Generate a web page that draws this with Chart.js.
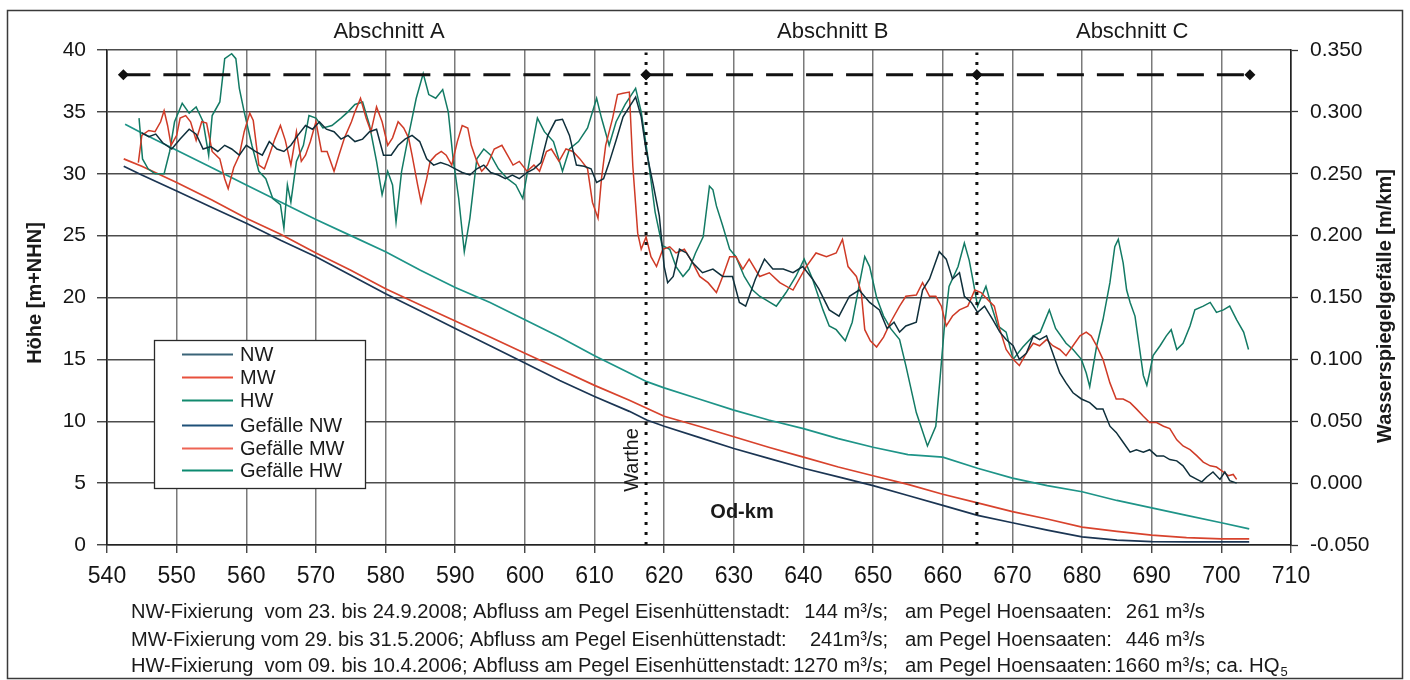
<!DOCTYPE html>
<html>
<head>
<meta charset="utf-8">
<style>
html,body{margin:0;padding:0;background:#fff;}
#wrap{width:1410px;height:680px;position:relative;}
</style>
<script src="https://cdn.jsdelivr.net/npm/chart.js@4.4.1/dist/chart.umd.min.js"></script>
</head>
<body>
<div id="wrap"><canvas id="c" width="1410" height="680"></canvas></div>
<script>
// ---------- DATA ----------
const xTicks = [540,550,560,570,580,590,600,610,620,630,640,650,660,670,680,690,700,710];
const hoeheTicks = [0,5,10,15,20,25,30,35,40];
const gefaelleTicks = [-0.05,0,0.05,0.1,0.15,0.2,0.25,0.3,0.35];

// Höhe [m+NHN] (left axis): [Od-km, Höhe]
const hoeheNW = [[542.4,30.6],[545,29.9],[550,28.6],[555,27.3],[560,26.0],[565,24.6],[570,23.3],[575,21.8],[580,20.3],[585,18.9],[590,17.5],[595,16.1],[600,14.7],[605,13.3],[610,12.0],[615,10.8],[617.5,10.1],[620,9.6],[625,8.7],[630,7.8],[635,7.0],[640,6.2],[645,5.5],[650,4.8],[655,4.0],[660,3.2],[665,2.4],[670,1.8],[675,1.2],[680,0.65],[685,0.4],[690,0.27],[695,0.25],[700,0.25],[704,0.25]];
const hoeheMW = [[542.4,31.2],[545,30.6],[550,29.3],[555,27.9],[560,26.4],[565,25.1],[570,23.6],[575,22.2],[580,20.7],[585,19.4],[590,18.1],[595,16.8],[600,15.5],[605,14.2],[610,12.9],[615,11.7],[617.5,11.05],[620,10.4],[625,9.6],[630,8.75],[635,7.9],[640,7.1],[645,6.3],[650,5.6],[655,4.9],[660,4.1],[665,3.4],[670,2.7],[675,2.1],[680,1.45],[685,1.1],[690,0.8],[695,0.6],[700,0.5],[704,0.5]];
const hoeheHW = [[542.6,34.0],[545,33.3],[550,31.9],[555,30.5],[560,29.1],[565,27.7],[570,26.3],[575,25.0],[580,23.7],[585,22.2],[590,20.8],[595,19.6],[600,18.2],[605,16.8],[610,15.3],[615,13.9],[617.5,13.2],[620,12.7],[625,11.8],[630,10.9],[635,10.1],[640,9.4],[645,8.6],[650,7.9],[655,7.3],[660,7.1],[665,6.2],[670,5.4],[675,4.8],[680,4.3],[685,3.6],[690,3.0],[695,2.4],[700,1.8],[704,1.3]];

// Wasserspiegelgefälle [m/km] (right axis): [Od-km, Gefälle]
const gefaelleNW = [[545.0,0.283],[546.0,0.280],[547.0,0.282],[548.0,0.275],[549.3,0.270],[550.5,0.278],[551.8,0.286],[552.8,0.282],[553.8,0.270],[554.9,0.272],[555.9,0.268],[556.9,0.273],[557.9,0.270],[559.0,0.265],[560.0,0.273],[561.3,0.268],[562.3,0.265],[563.3,0.276],[564.4,0.270],[565.4,0.268],[566.4,0.273],[567.4,0.281],[568.5,0.289],[569.5,0.286],[570.5,0.292],[571.5,0.286],[572.6,0.284],[573.6,0.278],[574.6,0.281],[575.6,0.276],[576.7,0.278],[577.7,0.284],[578.7,0.286],[579.7,0.265],[580.8,0.265],[581.8,0.273],[582.8,0.278],[583.8,0.281],[584.9,0.276],[585.9,0.262],[586.9,0.257],[587.9,0.259],[589.0,0.257],[590.0,0.254],[591.0,0.251],[592.1,0.249],[593.1,0.254],[594.1,0.257],[595.1,0.251],[596.2,0.249],[597.2,0.246],[598.2,0.249],[599.2,0.246],[600.3,0.251],[601.3,0.254],[602.3,0.259],[603.3,0.281],[604.4,0.293],[605.4,0.294],[606.4,0.281],[607.4,0.257],[608.5,0.256],[609.5,0.254],[610.3,0.243],[611.3,0.246],[612.1,0.259],[613.1,0.277],[614.1,0.296],[615.0,0.304],[615.9,0.312],[616.7,0.296],[617.4,0.269],[618.4,0.242],[619.3,0.216],[620.0,0.175],[620.5,0.162],[621.3,0.167],[622.2,0.189],[623.2,0.186],[624.1,0.178],[625.5,0.170],[627.0,0.173],[628.4,0.167],[629.8,0.167],[630.8,0.146],[631.7,0.143],[633.1,0.165],[634.4,0.181],[635.6,0.173],[637.1,0.173],[638.5,0.170],[639.9,0.175],[641.3,0.165],[642.2,0.157],[643.7,0.140],[645.1,0.135],[646.6,0.151],[648.0,0.156],[649.5,0.146],[650.9,0.140],[652.0,0.125],[653.0,0.130],[653.8,0.122],[654.7,0.127],[656.2,0.130],[657.1,0.156],[658.1,0.165],[659.5,0.187],[660.5,0.181],[661.4,0.165],[662.4,0.170],[663.1,0.151],[664.1,0.146],[665.0,0.138],[666.0,0.143],[667.2,0.132],[668.2,0.122],[669.1,0.116],[670.1,0.111],[671.0,0.100],[672.0,0.105],[673.0,0.119],[673.9,0.116],[674.9,0.119],[675.8,0.105],[676.8,0.089],[677.7,0.081],[678.7,0.073],[679.9,0.068],[681.1,0.065],[682.1,0.060],[683.0,0.060],[684.0,0.046],[684.9,0.041],[685.9,0.033],[686.9,0.025],[687.8,0.027],[688.8,0.025],[689.7,0.027],[690.7,0.022],[691.7,0.022],[692.6,0.019],[693.6,0.018],[694.5,0.014],[695.5,0.006],[696.5,0.003],[697.2,0.001],[697.9,0.005],[698.8,0.009],[699.8,0.003],[700.5,0.009],[701.2,0.002],[702.2,0.000]];
const gefaelleMW = [[544.5,0.259],[545.0,0.281],[546.0,0.285],[546.9,0.284],[547.7,0.292],[548.2,0.301],[548.7,0.289],[549.2,0.273],[550.0,0.281],[550.5,0.295],[551.3,0.297],[552.0,0.292],[552.8,0.277],[553.6,0.292],[554.3,0.291],[555.1,0.268],[556.2,0.262],[556.9,0.246],[557.4,0.238],[558.2,0.255],[559.0,0.265],[559.7,0.284],[560.5,0.299],[561.0,0.293],[561.8,0.257],[562.6,0.254],[563.3,0.265],[564.1,0.278],[564.9,0.289],[565.6,0.277],[566.4,0.257],[567.2,0.284],[567.9,0.260],[568.5,0.265],[569.2,0.276],[570.0,0.292],[570.8,0.268],[571.6,0.268],[572.6,0.252],[573.3,0.265],[574.1,0.279],[575.1,0.292],[575.6,0.300],[576.4,0.311],[577.2,0.295],[577.9,0.284],[578.7,0.304],[579.5,0.292],[580.3,0.273],[581.0,0.279],[581.8,0.292],[582.6,0.287],[583.3,0.279],[583.8,0.265],[584.6,0.241],[585.1,0.227],[585.9,0.246],[586.4,0.260],[587.2,0.265],[588.0,0.268],[588.7,0.265],[589.5,0.257],[590.3,0.276],[591.0,0.289],[591.8,0.287],[592.3,0.273],[593.1,0.260],[593.8,0.252],[594.6,0.257],[595.6,0.270],[596.7,0.273],[597.5,0.265],[598.3,0.257],[599.2,0.260],[600.3,0.252],[601.3,0.257],[602.1,0.252],[603.1,0.268],[603.8,0.270],[604.9,0.260],[605.9,0.270],[606.9,0.268],[607.9,0.262],[609.0,0.254],[609.7,0.227],[610.5,0.214],[611.0,0.246],[611.6,0.273],[612.6,0.295],[613.3,0.314],[614.1,0.315],[615.0,0.316],[615.5,0.256],[616.2,0.202],[616.7,0.189],[617.4,0.199],[618.1,0.183],[618.9,0.175],[619.8,0.189],[620.8,0.191],[621.7,0.186],[622.9,0.189],[624.1,0.178],[625.1,0.167],[626.3,0.162],[627.5,0.154],[628.4,0.167],[629.4,0.183],[630.3,0.183],[631.3,0.173],[632.2,0.181],[633.7,0.167],[635.1,0.170],[636.6,0.162],[638.5,0.156],[640.4,0.175],[641.8,0.186],[643.3,0.183],[644.7,0.186],[645.6,0.197],[646.4,0.175],[647.6,0.167],[648.3,0.154],[648.8,0.124],[649.6,0.115],[650.5,0.110],[651.5,0.118],[652.5,0.130],[653.8,0.143],[654.7,0.151],[656.2,0.152],[657.1,0.162],[658.1,0.151],[659.0,0.151],[659.8,0.143],[660.5,0.127],[661.4,0.135],[662.4,0.140],[663.6,0.143],[664.6,0.156],[665.5,0.154],[666.5,0.148],[667.4,0.143],[668.2,0.124],[669.1,0.108],[670.1,0.100],[671.0,0.095],[672.0,0.105],[673.0,0.113],[673.9,0.111],[674.9,0.116],[675.8,0.111],[676.8,0.108],[677.7,0.103],[678.7,0.111],[679.7,0.119],[680.6,0.122],[681.3,0.119],[682.1,0.111],[683.0,0.100],[684.0,0.081],[684.9,0.068],[685.9,0.068],[686.9,0.065],[687.8,0.060],[688.8,0.054],[689.7,0.049],[690.7,0.049],[691.7,0.046],[692.6,0.044],[693.6,0.035],[694.5,0.030],[695.5,0.027],[696.5,0.022],[697.4,0.017],[698.4,0.014],[699.3,0.013],[700.3,0.009],[701.0,0.006],[701.7,0.007],[702.2,0.003]];
const gefaelleHW = [[544.6,0.295],[545.1,0.262],[545.9,0.254],[546.9,0.250],[548.2,0.250],[549.0,0.268],[549.7,0.292],[550.8,0.307],[551.8,0.299],[552.8,0.304],[553.8,0.292],[554.6,0.265],[555.1,0.297],[556.2,0.308],[556.9,0.343],[557.9,0.347],[558.5,0.343],[559.0,0.319],[559.7,0.300],[560.8,0.273],[561.8,0.252],[562.8,0.246],[563.8,0.230],[564.9,0.225],[565.4,0.206],[565.9,0.241],[566.4,0.227],[567.2,0.260],[568.2,0.273],[569.0,0.297],[570.0,0.295],[571.0,0.287],[572.3,0.289],[573.6,0.295],[574.6,0.300],[575.6,0.306],[576.7,0.308],[577.7,0.289],[578.7,0.260],[579.5,0.233],[580.3,0.252],[581.0,0.241],[581.5,0.211],[582.3,0.252],[583.3,0.281],[584.4,0.311],[585.4,0.331],[586.2,0.314],[587.2,0.311],[588.2,0.318],[589.0,0.300],[589.7,0.262],[590.5,0.230],[591.3,0.187],[592.1,0.214],[593.1,0.262],[594.1,0.270],[595.1,0.265],[596.2,0.254],[597.5,0.246],[598.7,0.241],[599.7,0.230],[600.8,0.265],[601.8,0.295],[602.8,0.284],[604.1,0.276],[605.4,0.252],[606.4,0.270],[607.7,0.276],[609.0,0.287],[610.3,0.311],[611.0,0.295],[612.1,0.273],[613.1,0.292],[614.4,0.306],[615.9,0.319],[616.7,0.300],[617.7,0.262],[618.7,0.219],[619.7,0.192],[620.8,0.189],[621.7,0.175],[622.7,0.167],[623.6,0.173],[624.5,0.186],[625.6,0.199],[626.5,0.240],[627.0,0.237],[627.5,0.224],[628.4,0.208],[629.4,0.189],[630.3,0.183],[631.5,0.167],[632.7,0.156],[633.7,0.151],[634.6,0.148],[636.1,0.143],[637.5,0.154],[638.9,0.167],[640.1,0.181],[641.3,0.165],[642.8,0.140],[643.7,0.127],[644.7,0.124],[646.0,0.115],[647.0,0.130],[648.0,0.160],[648.8,0.183],[649.5,0.175],[650.5,0.150],[651.5,0.135],[652.5,0.125],[653.8,0.116],[654.7,0.095],[656.2,0.057],[657.8,0.030],[659.0,0.046],[659.6,0.084],[660.2,0.124],[660.9,0.159],[662.2,0.175],[663.1,0.194],[663.8,0.180],[664.3,0.165],[665.0,0.143],[666.2,0.159],[667.0,0.143],[667.9,0.127],[669.1,0.122],[670.1,0.100],[671.5,0.110],[673.0,0.119],[674.0,0.122],[675.3,0.140],[676.2,0.125],[677.7,0.113],[678.7,0.108],[679.9,0.100],[680.6,0.089],[681.1,0.078],[682.1,0.111],[683.0,0.132],[684.0,0.162],[684.7,0.191],[685.2,0.197],[685.9,0.178],[686.4,0.156],[686.9,0.146],[687.6,0.135],[688.2,0.111],[688.8,0.087],[689.3,0.079],[689.8,0.092],[690.2,0.103],[691.2,0.111],[692.1,0.119],[692.8,0.124],[693.6,0.108],[694.5,0.113],[695.5,0.127],[696.2,0.140],[697.4,0.143],[698.4,0.146],[699.3,0.138],[700.3,0.140],[701.2,0.143],[702.2,0.132],[703.2,0.122],[703.9,0.108]];

// Section boundaries (Od-km) and level of the section marker line (m+NHN)
const abschnittKm = [542.35, 617.4, 664.9, 704.1];
const abschnittLevel = 38;
const abschnittNames = ['Abschnitt A','Abschnitt B','Abschnitt C'];
const abschnittLabelKm = [580.5, 644.2, 687.2];
const wartheKm = 617.4;

const legendLabels = ['NW','MW','HW','Gefälle NW','Gefälle MW','Gefälle HW'];
const footerLines = [
  ['NW-Fixierung  vom 23. bis 24.9.2008; Abfluss am Pegel Eisenhüttenstadt:', '144 m³/s;', 'am Pegel Hoensaaten:', '261 m³/s', ''],
  ['MW-Fixierung vom 29. bis 31.5.2006; Abfluss am Pegel Eisenhüttenstadt:', '241m³/s;', 'am Pegel Hoensaaten:', '446 m³/s', ''],
  ['HW-Fixierung  vom 09. bis 10.4.2006; Abfluss am Pegel Eisenhüttenstadt:', '1270 m³/s;', 'am Pegel Hoensaaten:', '1660 m³/s', '; ca. HQ']
];

// ---------- STYLE ----------
const FONT = '"Liberation Sans", Arial, Helvetica, sans-serif';
const COL = {
  nw: '#1b3553', mw: '#d8432d', hw: '#1e9488',
  gnw: '#0f2f3b', gmw: '#cf3a26', ghw: '#127a64'
};
const legendColors = ['#3a6478','#e8503c','#128a6e','#1e5078','#ee6454','#0c8a70'];

const pts = a => a.map(p => ({x: p[0], y: p[1]}));
const lineDs = (label, data, axis, color, w) => ({
  label, data: pts(data), yAxisID: axis, borderColor: color, backgroundColor: color,
  borderWidth: w, pointRadius: 0, tension: 0, fill: false
});

const datasets = [];
[abschnittKm[1], abschnittKm[2]].forEach(k => datasets.push({
  label: 'sep', data: [{x:k,y:0},{x:k,y:39.8}], yAxisID:'y', borderColor:'#111',
  borderWidth:3, borderDash:[3,7], pointRadius:0, fill:false
}));
for (let i = 0; i < abschnittKm.length - 1; i++) {
  datasets.push({
    label: 'abschnitt', data: [{x:abschnittKm[i],y:abschnittLevel},{x:abschnittKm[i+1],y:abschnittLevel}],
    yAxisID:'y', borderColor:'#111', borderWidth:3, borderDash:[27,13],
    pointStyle:'rectRot', pointRadius:5.5, pointBackgroundColor:'#111', pointBorderWidth:0, fill:false
  });
}
datasets.push(lineDs('Gefälle NW', gefaelleNW, 'y2', COL.gnw, 1.5));
datasets.push(lineDs('Gefälle MW', gefaelleMW, 'y2', COL.gmw, 1.5));
datasets.push(lineDs('Gefälle HW', gefaelleHW, 'y2', COL.ghw, 1.5));
datasets.push(lineDs('NW', hoeheNW, 'y', COL.nw, 1.7));
datasets.push(lineDs('MW', hoeheMW, 'y', COL.mw, 1.7));
datasets.push(lineDs('HW', hoeheHW, 'y', COL.hw, 1.7));

function drawScaled(ctx, text, x, y, font, align, s) {
  ctx.save();
  ctx.font = font;
  ctx.translate(x, y);
  ctx.scale(s, 1);
  ctx.textAlign = align;
  ctx.textBaseline = 'alphabetic';
  ctx.fillText(text, 0, 0);
  const w = ctx.measureText(text).width * s;
  ctx.restore();
  return w;
}

const deco = {
  id: 'deco',
  beforeDraw(chart) {
    const ctx = chart.ctx;
    ctx.save();
    ctx.fillStyle = '#fff';
    ctx.fillRect(0, 0, chart.width, chart.height);
    ctx.restore();
  },
  afterDatasetsDraw(chart) {
    const ctx = chart.ctx;
    const xs = chart.scales.x;
    ctx.save();
    // legend box
    ctx.fillStyle = '#fff';
    ctx.fillRect(154, 340, 211, 148);
    ctx.strokeStyle = '#2a2a2a';
    ctx.lineWidth = 1.3;
    ctx.strokeRect(154.5, 340.5, 211, 148);
    const rows = [354, 377, 400, 425, 448, 470];
    ctx.font = '20px ' + FONT;
    ctx.textBaseline = 'middle';
    ctx.textAlign = 'left';
    legendLabels.forEach((l, i) => {
      ctx.strokeStyle = legendColors[i];
      ctx.lineWidth = 2;
      ctx.beginPath();
      ctx.moveTo(182, rows[i] + 0.5);
      ctx.lineTo(233, rows[i] + 0.5);
      ctx.stroke();
      ctx.fillStyle = '#1a1a1a';
      ctx.fillText(l, 240, rows[i] + 1);
    });
    // Warthe label
    ctx.save();
    ctx.translate(xs.getPixelForValue(wartheKm) - 14, 460);
    ctx.rotate(-Math.PI / 2);
    ctx.font = '20px ' + FONT;
    ctx.textAlign = 'center';
    ctx.textBaseline = 'middle';
    ctx.fillStyle = '#1a1a1a';
    ctx.fillText('Warthe', 0, 0);
    ctx.restore();
    // Od-km
    ctx.font = 'bold 20px ' + FONT;
    ctx.textAlign = 'center';
    ctx.textBaseline = 'middle';
    ctx.fillStyle = '#1a1a1a';
    ctx.fillText('Od-km', 742, 512);
    ctx.restore();
  },
  afterDraw(chart) {
    const ctx = chart.ctx;
    const xs = chart.scales.x;
    ctx.save();
    // outer frame
    ctx.strokeStyle = '#3a3a3a';
    ctx.lineWidth = 1.5;
    ctx.strokeRect(7.5, 10.5, 1395, 668);
    ctx.fillStyle = '#1a1a1a';
    // section titles
    ctx.font = '22px ' + FONT;
    ctx.textAlign = 'center';
    ctx.textBaseline = 'middle';
    abschnittNames.forEach((n, i) => ctx.fillText(n, xs.getPixelForValue(abschnittLabelKm[i]), 32));
    // axis titles
    ctx.font = 'bold 20px ' + FONT;
    ctx.save();
    ctx.translate(35, 293);
    ctx.rotate(-Math.PI / 2);
    ctx.fillText('Höhe [m+NHN]', 0, 0);
    ctx.restore();
    ctx.save();
    ctx.translate(1385, 306);
    ctx.rotate(-Math.PI / 2);
    ctx.fillText('Wasserspiegelgefälle [m/km]', 0, 0);
    ctx.restore();
    // footer
    const base = [618, 645.5, 672];
    const f = '20px ' + FONT;
    ctx.font = f;
    const s1 = 659 / ctx.measureText(footerLines[0][0]).width;
    const s3 = 207 / ctx.measureText(footerLines[0][2]).width;
    footerLines.forEach((L, i) => {
      const y = base[i];
      drawScaled(ctx, L[0], 131, y, f, 'left', s1);
      drawScaled(ctx, L[1], 888, y, f, 'right', s1);
      drawScaled(ctx, L[2], 905, y, f, 'left', s3);
      drawScaled(ctx, L[3], 1205, y, f, 'right', s3);
      if (L[4]) {
        const w4 = drawScaled(ctx, L[4], 1205, y, f, 'left', s3);
        drawScaled(ctx, '5', 1205 + w4 + 1, y + 4, '13px ' + FONT, 'left', 1);
      }
    });
    ctx.restore();
  }
};

new Chart(document.getElementById('c'), {
  type: 'line',
  data: { datasets },
  options: {
    responsive: false,
    devicePixelRatio: 1,
    animation: false,
    layout: { padding: { top: 50, left: 0, right: 0, bottom: 0 } },
    plugins: { legend: { display: false }, tooltip: { enabled: false } },
    scales: {
      x: {
        type: 'linear', position: 'bottom', min: xTicks[0], max: xTicks[xTicks.length - 1],
        afterBuildTicks: s => { s.ticks = xTicks.map(v => ({value: v})); },
        ticks: { font: { family: FONT, size: 23 }, color: '#151515', padding: 10, maxRotation: 0, autoSkip: false, callback: v => String(v) },
        grid: { color: '#7a7a7a', lineWidth: 1.5, tickLength: 8, tickColor: '#333', tickWidth: 1.3 },
        border: { color: '#222', width: 1.6 },
        afterFit: s => { s.height = 135; }
      },
      y: {
        type: 'linear', position: 'left', min: 0, max: 40,
        afterBuildTicks: s => { s.ticks = hoeheTicks.map(v => ({value: v})); },
        ticks: { font: { family: FONT, size: 21 }, color: '#151515', padding: 11, callback: v => String(v) },
        grid: { color: '#4d4d4d', lineWidth: 1.5, tickLength: 10, tickColor: '#333', tickWidth: 1.3 },
        border: { color: '#222', width: 1.6 },
        afterFit: s => { s.width = 107; }
      },
      y2: {
        type: 'linear', position: 'right', min: -0.05, max: 0.35,
        afterBuildTicks: s => { s.ticks = gefaelleTicks.map(v => ({value: v})); },
        ticks: { font: { family: FONT, size: 21 }, color: '#151515', padding: 12,
          callback: v => (Math.abs(v) < 1e-9 ? 0 : v).toFixed(3) },
        grid: { drawOnChartArea: false, tickLength: 7, color: '#333', tickWidth: 1.3 },
        border: { color: '#222', width: 1.6 },
        afterFit: s => { s.width = 119; }
      }
    }
  },
  plugins: [deco]
});
</script>
</body>
</html>
